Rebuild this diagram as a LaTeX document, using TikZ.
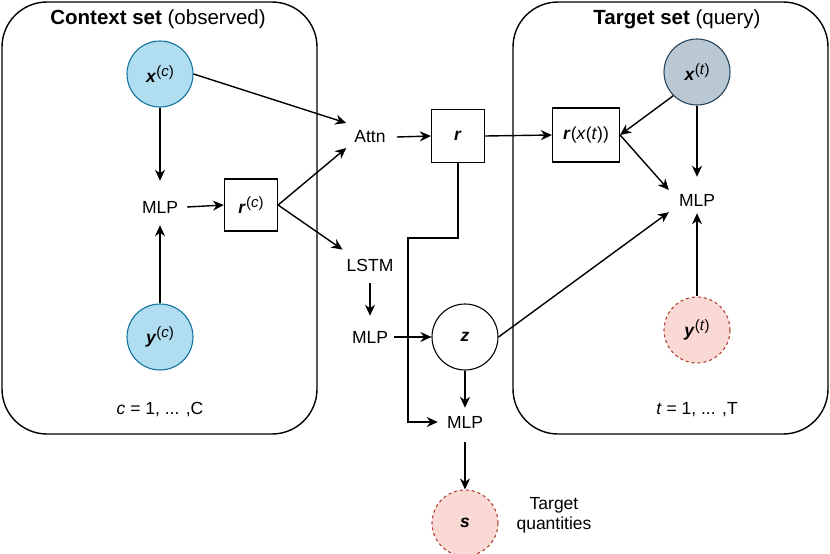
\documentclass[tikz,border=0pt]{standalone}
\usepackage{fontspec}
\setmainfont{Liberation Sans}
\usetikzlibrary{arrows.meta}
\definecolor{bfill}{HTML}{B1DDF0}
\definecolor{bdraw}{HTML}{10739E}
\definecolor{gfill}{HTML}{BAC8D3}
\definecolor{gdraw}{HTML}{23445D}
\definecolor{rfill}{HTML}{FAD9D5}
\definecolor{rdraw}{HTML}{AE4132}
\newcommand\bvec[1]{\textbf{\textit{#1}}}
\newcommand\sups[1]{\raisebox{6.5pt}{\fontsize{15}{15}\selectfont #1}}
\begin{document}
\begin{tikzpicture}[x=1pt,y=-1pt,
  every node/.style={font=\fontsize{17.5}{21}\selectfont},
  lbl/.style={inner sep=0pt},
  circ/.style={circle, minimum size=66pt, inner sep=0pt, line width=1.1pt},
  sq/.style={draw, line width=1.2pt, inner sep=0pt},
  frame/.style={draw, line width=1.4pt, rounded corners=45pt},
  arr/.style={-{Stealth[length=11pt,width=10pt,inset=3.5pt]}, line width=1.4pt},
  ln/.style={line width=1.4pt}]
\useasboundingbox (0,0) rectangle (830,554);
% frames
\draw[frame] (2,2) rectangle (317,434);
\draw[frame] (513,2) rectangle (828,434);
\node[lbl, font=\fontsize{20.5}{24}\selectfont] (ctitle) at (158,19) {\textbf{Context set} (observed)};
\node[lbl, font=\fontsize{20.5}{24}\selectfont] (ttitle) at (677,19) {\textbf{Target set} (query)};
\node[lbl] (cidx) at (160,410) {\textit{c} = 1, ... ,C};
\node[lbl] (tidx) at (697,410) {\textit{t} = 1, ... ,T};
% context nodes
\node[circ, fill=bfill, draw=bdraw] (xc) at (160,74) {\bvec{x}\sups{(\textit{c})}};
\node[circ, fill=bfill, draw=bdraw] (yc) at (160,337) {\bvec{y}\sups{(\textit{c})}};
\node[lbl] (mlpl) at (160,207) {MLP};
\node[sq, minimum width=53pt, minimum height=52pt] (rc) at (251,205) {\bvec{r}\sups{(\textit{c})}};
% middle
\node[lbl] (attn) at (370,137) {Attn};
\node[sq, minimum width=53pt, minimum height=53pt] (r) at (458,136) {\bvec{r}};
\node[lbl] (lstm) at (370,265) {LSTM};
\node[lbl] (mlpm) at (370,337) {MLP};
\node[circ, draw=black, fill=white] (z) at (465,337) {\bvec{z}};
\node[lbl] (mlpb) at (465,422) {MLP};
\node[circ, fill=rfill, draw=rdraw, dashed] (s) at (465,523) {\bvec{s}};
\node[lbl, align=center] (tq) at (554,515) {Target\\[-1pt]quantities};
% target
\node[circ, fill=gfill, draw=gdraw] (xt) at (697,72) {\bvec{x}\sups{(\textit{t})}};
\node[circ, fill=rfill, draw=rdraw, dashed] (yt) at (697,330) {\bvec{y}\sups{(\textit{t})}};
\node[sq, minimum width=67pt, minimum height=54pt] (rx) at (586,135) {\bvec{r}(\textit{x}(\textit{t}))};
\node[lbl] (mlpr) at (697,200) {MLP};
% connectors
\draw[arr] (xc.south) -- ([yshift=20pt]mlpl.north);
\draw[arr] (yc.north) -- ([yshift=-12pt]mlpl.south);
\draw[arr] ([xshift=9pt]mlpl.east) -- (rc.west);
\draw[arr] (xc.east) -- ([xshift=-8pt,yshift=14pt]attn.west);
\draw[arr] (rc.east) -- ([xshift=-8pt,yshift=-11pt]attn.west);
\draw[arr] (rc.east) -- ([xshift=-4pt,yshift=9pt]lstm.north west);
\draw[arr] ([xshift=11pt]attn.east) -- (r.west);
\draw[arr] (r.east) -- (rx.west);
\coordinate (elb) at (408,238);
\draw[arr] (r.south) |- (elb) |- ([xshift=-9pt]mlpb.west);
\draw[arr] ([yshift=-12pt]lstm.south) -- ([yshift=15pt]mlpm.north);
\draw[arr] ([xshift=6pt]mlpm.east) -- (z.west);
\draw[arr] (z.south) -- ([yshift=8pt]mlpb.north);
\draw[arr] ([yshift=-14pt]mlpb.south) -- (s.north);
\draw[arr] (z.east) -- ([xshift=-10pt,yshift=-6pt]mlpr.south west);
\draw[arr] (rx.east) -- ([xshift=-10pt,yshift=10pt]mlpr.west);
\draw[arr] (xt.225) -- (rx.east);
\draw[arr] (xt.south) -- ([yshift=17pt]mlpr.north);
\draw[arr] (yt.north) -- ([yshift=-7pt]mlpr.south);
\end{tikzpicture}
\end{document}
